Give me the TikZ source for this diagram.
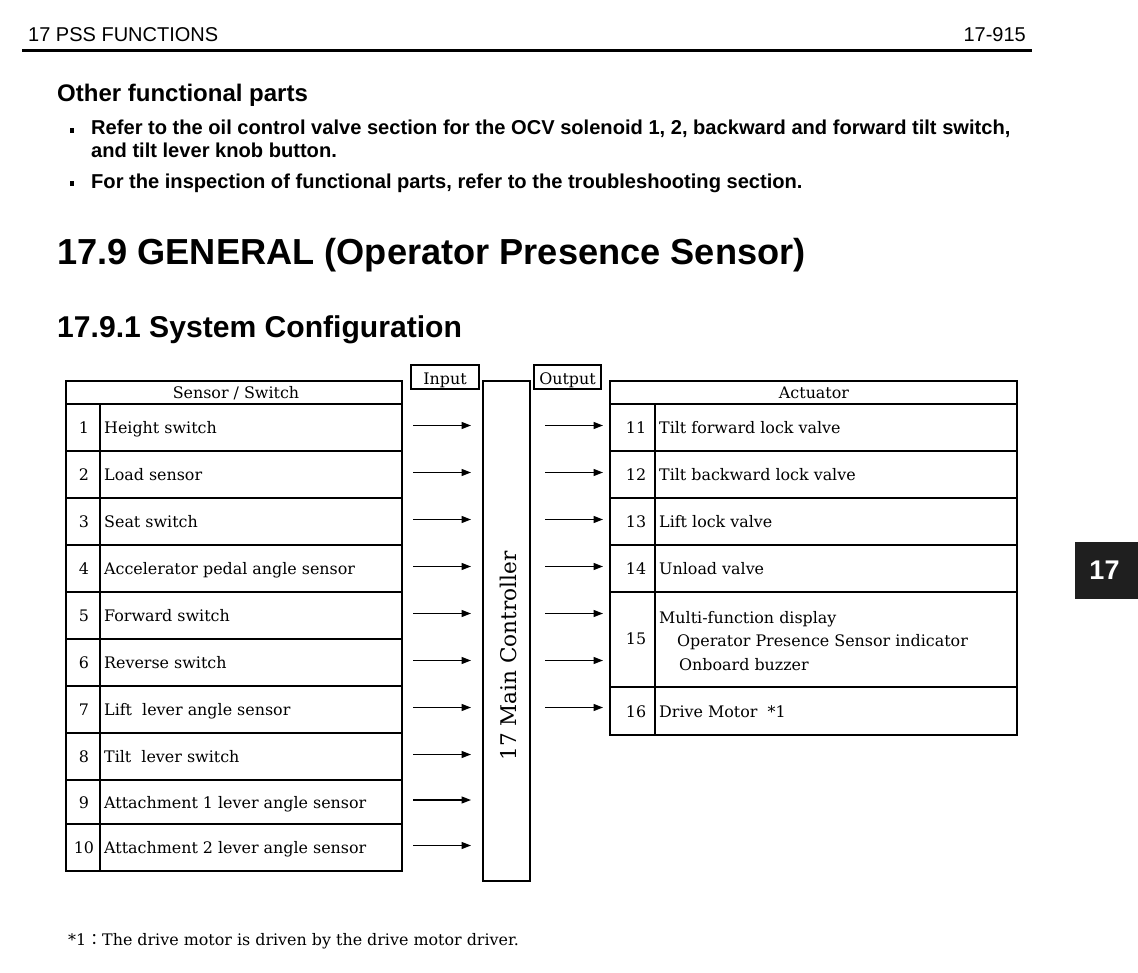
\documentclass[tikz,border=0pt]{standalone}
\usepackage{fontspec}
\newfontfamily\arialfont{Liberation Sans}
\newfontfamily\tablefont{DejaVu Serif}
\newfontfamily\cjkfont{Noto Sans CJK JP}
\usetikzlibrary{calc, arrows.meta}
\tikzstyle{arrow}     = [line width=1.3pt,-{Triangle[length=9.5pt,width=7pt]}]
\tikzstyle{thickline} = [line width=2.8pt]
\tikzstyle{thinline}  = [line width=1.5pt]

\begin{document}
\begin{tikzpicture}[
    x=1pt,y=-1pt,
    celltext/.style={anchor=base west,inner sep=0pt,font=\tablefont\fontsize{15.9}{18}\selectfont},
    cellnum/.style={anchor=base,inner sep=0pt,font=\tablefont\fontsize{15.9}{18}\selectfont},
    pagetext/.style={anchor=base west,inner sep=0pt,font=\arialfont\bfseries\fontsize{20.1}{23}\selectfont},
  ]
  \fill[white] (0,0) rectangle (1138,973);
  \useasboundingbox (0,0) rectangle (1138,973);

  % page header
  \node[anchor=base west,inner sep=0pt,font=\arialfont\fontsize{20}{23}\selectfont] (chap) at (28,42) {17 PSS FUNCTIONS};
  \node[anchor=base east,inner sep=0pt,font=\arialfont\fontsize{20}{23}\selectfont] (pageno) at (1026,42) {17-915};
  \draw[line width=3pt] (22,51) -- (1032,51);

  % notes
  \node[pagetext,font=\arialfont\bfseries\fontsize{24}{27}\selectfont] (other) at (57,102) {Other functional parts};
  \fill (70,128) rectangle (74,133);
  \node[pagetext] (note1) at (91,135) {Refer to the oil control valve section for the OCV solenoid 1, 2, backward and forward tilt switch,};
  \node[pagetext] (note1b) at (91,158) {and tilt lever knob button.};
  \fill (70,181) rectangle (74,186);
  \node[pagetext] (note2) at (91,189) {For the inspection of functional parts, refer to the troubleshooting section.};
  \node[pagetext,font=\arialfont\bfseries\fontsize{36.2}{40}\selectfont] (title) at (57,265) {17.9 GENERAL (Operator Presence Sensor)};
  \node[pagetext,font=\arialfont\bfseries\fontsize{30.1}{34}\selectfont] (subtitle) at (57,338) {17.9.1 System Configuration};

  % sensor / switch table
  \foreach \y in {451,498,545,592,639,686,733,780,824}
    \draw[thinline] (66,\y) -- (402,\y);
  \draw[thinline] (100,404) -- (100,871);
  \draw[thickline] (66,404) -- (402,404);
  \draw[thickline] (66,381) rectangle (402,871);
  \node[cellnum] (shead) at (236,399) {Sensor / Switch};
  \foreach \i/\yc/\name in {1/427.5/Height switch, 2/474.5/Load sensor, 3/521.5/Seat switch,
      4/568.5/Accelerator pedal angle sensor, 5/615.5/Forward switch, 6/662.5/Reverse switch,
      7/709.5/Lift\ \ lever angle sensor, 8/756.5/Tilt\ \ lever switch,
      9/802/Attachment 1 lever angle sensor, 10/847.5/Attachment 2 lever angle sensor}
  {
    \node[cellnum] (sn\i) at (84,\yc+6) {\i};
    \node[celltext] (s\i) at (104,\yc+6) {\name};
    \coordinate (in\i) at (413,\yc-2);
    \coordinate (ctrlin\i) at (471,\yc-2);
    \draw[arrow] (in\i) -- (ctrlin\i);
  }

  % input / output labels
  \node[draw,thinline,inner sep=0pt,minimum width=68pt,minimum height=24pt] (inbox) at (445,377) {};
  \node[cellnum] (inlbl) at (445,385) {Input};
  \node[draw,thinline,inner sep=0pt,minimum width=67pt,minimum height=24pt] (outbox) at (567.5,377) {};
  \node[cellnum] (outlbl) at (567.5,385) {Output};

  % main controller
  \draw[thickline] (483,381) rectangle (530,881);
  \node[rotate=90,inner sep=0pt,font=\tablefont\fontsize{21.6}{25}\selectfont] (ctrl) at (508,656) {17 Main Controller};
  \foreach \i/\yc in {1/425.5,2/472.5,3/519.5,4/566.5,5/613.5,6/660.5,7/707.5}
  {
    \coordinate (ctrlout\i) at (545,\yc);
    \coordinate (act\i) at (603,\yc);
    \draw[arrow] (ctrlout\i) -- (act\i);
  }

  % actuator table
  \foreach \y in {451,498,545,592,687}
    \draw[thinline] (610,\y) -- (1017,\y);
  \draw[thinline] (655,404) -- (655,735);
  \draw[thickline] (610,404) -- (1017,404);
  \draw[thickline] (610,381) rectangle (1017,735);
  \node[cellnum] (ahead) at (814,399) {Actuator};
  \foreach \i/\yc/\name in {11/427.5/Tilt forward lock valve, 12/474.5/Tilt backward lock valve,
      13/521.5/Lift lock valve, 14/568.5/Unload valve, 16/711/Drive Motor\ \ *1}
  {
    \node[cellnum] (an\i) at (636,\yc+6) {\i};
    \node[celltext] (a\i) at (659,\yc+6) {\name};
  }
  \node[cellnum] (an15) at (636,644) {15};
  \node[celltext] (a15) at (659,623) {Multi-function display};
  \node[celltext] (a15b) at (677,646) {Operator Presence Sensor indicator};
  \node[celltext] (a15c) at (679,670) {Onboard buzzer};

  % chapter tab
  \fill[black!88] (1075,542) rectangle (1138,599);
  \node[text=white,inner sep=0pt,font=\arialfont\bfseries\fontsize{27}{30}\selectfont] (tab) at (1104.5,570.5) {17};

  % footnote
  \node[celltext] (foot) at (68,945) {*1{\cjkfont ：}The drive motor is driven by the drive motor driver.};
\end{tikzpicture}
\end{document}
